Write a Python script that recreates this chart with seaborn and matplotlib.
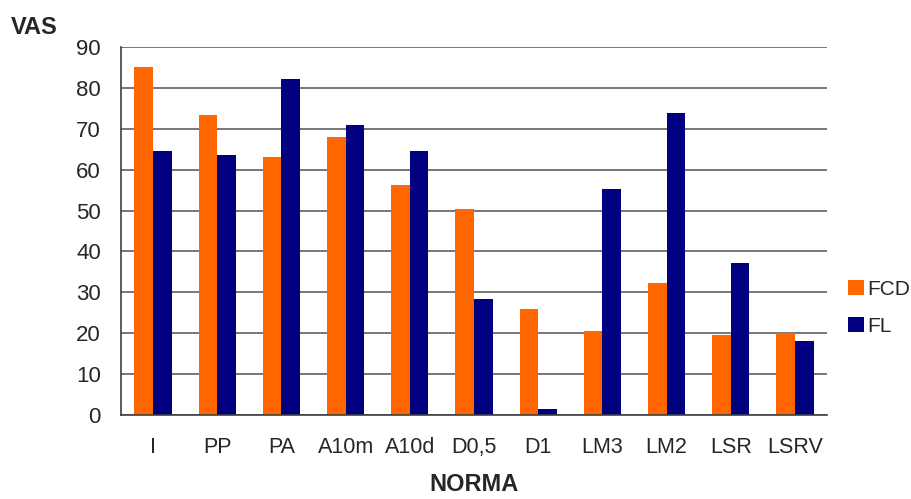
import matplotlib
matplotlib.use("Agg")
import matplotlib.pyplot as plt
import seaborn as sns
import pandas as pd
import numpy as np

categories = ["I", "PP", "PA", "A10m", "A10d", "D0,5", "D1", "LM3", "LM2", "LSR", "LSRV"]
fcd = [85.1, 73.3, 63.1, 68.0, 56.2, 50.4, 25.9, 20.5, 32.3, 19.6, 20.0]
fl = [64.5, 63.6, 82.2, 70.9, 64.5, 28.4, 1.5, 55.3, 73.8, 37.2, 18.1]
series = ["FCD", "FL"]
colors = ["#FF6600", "#000080"]
yticks = list(range(0, 100, 10))

df = pd.DataFrame({
    "NORMA": categories * 2,
    "VAS": fcd + fl,
    "serie": [series[0]] * len(categories) + [series[1]] * len(categories),
})

sns.set_style("white")
plt.rcParams["font.family"] = ["Liberation Sans", "DejaVu Sans"]

fig = plt.figure(figsize=(9.11, 4.99), dpi=100)
ax = fig.add_axes([0.1328, 0.1683, 0.7750, 0.7375])

sns.barplot(data=df, x="NORMA", y="VAS", hue="serie", palette=colors,
            order=categories, hue_order=series, width=0.58, gap=0,
            saturation=1, ax=ax, legend=True, linewidth=0)

ax.set_ylim(0, 90)
ax.set_xlim(-0.5, len(categories) - 0.5)
ax.set_yticks(yticks)
ax.set_yticklabels([str(v) for v in yticks], fontsize=16)
ax.set_xticks(range(len(categories)))
ax.set_xticklabels(categories, fontsize=15.5)
ax.set_xticks(np.arange(-0.5, len(categories)), minor=True)
ax.tick_params(axis="x", which="major", length=0, pad=16)
ax.tick_params(axis="x", which="minor", length=4, width=1, color="#404040", direction="out")
ax.tick_params(axis="y", which="major", length=5.5, width=1, color="#404040", direction="out", pad=9)

ax.yaxis.grid(True, color="#606060", linewidth=1.2)
ax.set_axisbelow(True)
for s in ["top", "right"]:
    ax.spines[s].set_visible(False)
for s in ["left", "bottom"]:
    ax.spines[s].set_color("#404040")
    ax.spines[s].set_linewidth(1.2)

ax.set_xlabel("")
ax.set_ylabel("")
fig.text(0.012, 0.944, "VAS", fontsize=17, fontweight="bold", ha="left", va="center")
fig.text(0.520, 0.016, "NORMA", fontsize=17, fontweight="bold", ha="center", va="baseline")

handles, labels = ax.get_legend_handles_labels()
ax.legend(handles, labels, loc="center left", bbox_to_anchor=(0.931, 0.383),
          bbox_transform=fig.transFigure, frameon=False, fontsize=15,
          handlelength=0.75, handleheight=0.75, handletextpad=0.15,
          labelspacing=0.85, borderpad=0, borderaxespad=0)

fig.savefig("out.png", dpi=100)
